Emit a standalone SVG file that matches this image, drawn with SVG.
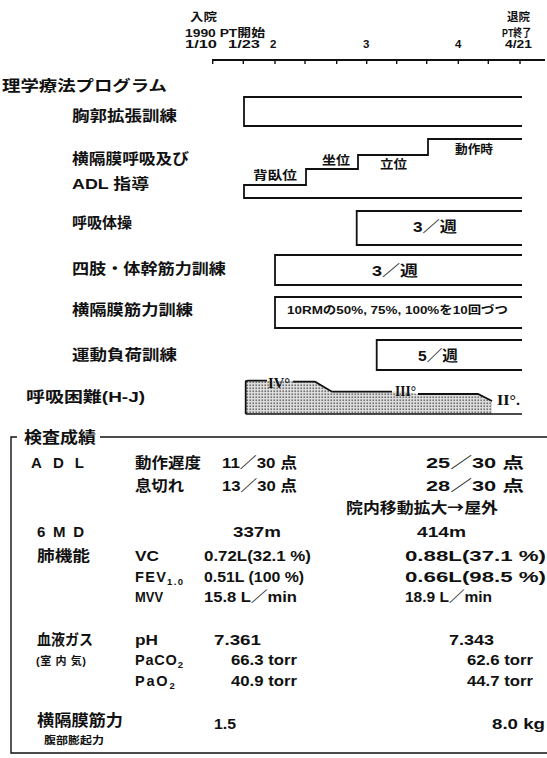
<svg xmlns="http://www.w3.org/2000/svg" width="547" height="758" viewBox="0 0 547 758">
<style>
.t{font-family:"Liberation Sans","Noto Sans CJK JP",sans-serif;font-weight:700;fill:#111}
.r{font-family:"Liberation Serif","Noto Serif CJK JP",serif;font-weight:700;fill:#111}
.ln{stroke:#111;stroke-width:1.8;fill:none}
.th{stroke:#111;stroke-width:1.4;fill:none}
</style>
<defs>
<pattern id="dots" width="3" height="3" patternUnits="userSpaceOnUse">
<rect width="3" height="3" fill="#dcdcdc"/>
<rect x="0.5" y="0.5" width="1.4" height="1.4" fill="#555"/>
</pattern>
</defs>
<rect width="547" height="758" fill="#fff"/>

<g id="timeline">
<line class="ln" x1="212" y1="60" x2="545" y2="60" stroke-width="2.2"/>
<path class="th" d="M212.7,60v4M243.3,60v4M275,60v4M305,60v4M336.7,60v4M366.7,60v4M396.7,60v4M426.7,60v4M458.3,60v4M488.3,60v4M520,60v4"/>
<text class="t" x="190" y="21" font-size="11" textLength="27" lengthAdjust="spacingAndGlyphs">入院</text>
<text class="t" x="185" y="37" font-size="11.5" textLength="80" lengthAdjust="spacingAndGlyphs">1990 PT開始</text>
<text class="t" x="185" y="48" font-size="11.5" textLength="32" lengthAdjust="spacingAndGlyphs">1/10</text>
<text class="t" x="228" y="48" font-size="11.5" textLength="32" lengthAdjust="spacingAndGlyphs">1/23</text>
<text class="t" x="270" y="48" font-size="11.5">2</text>
<text class="t" x="363" y="48" font-size="11.5">3</text>
<text class="t" x="455" y="48" font-size="11.5">4</text>
<text class="t" x="507" y="21" font-size="11" textLength="23" lengthAdjust="spacingAndGlyphs">退院</text>
<text class="t" x="502" y="37" font-size="11" textLength="29" lengthAdjust="spacingAndGlyphs">PT終了</text>
<text class="t" x="505" y="48" font-size="11.5" textLength="27" lengthAdjust="spacingAndGlyphs">4/21</text>
</g>

<g id="program-title">
<text class="t" x="2" y="91" font-size="15" textLength="165" lengthAdjust="spacingAndGlyphs">理学療法プログラム</text>
</g>

<g id="chest">
<text class="t" x="72" y="121" font-size="15" textLength="105" lengthAdjust="spacingAndGlyphs">胸郭拡張訓練</text>
<path class="ln" d="M522,97H244V126H522"/>
</g>

<g id="diaphragm-breathing">
<text class="t" x="72" y="164" font-size="15" textLength="117" lengthAdjust="spacingAndGlyphs">横隔膜呼吸及び</text>
<text class="t" x="72" y="189" font-size="15" textLength="77" lengthAdjust="spacingAndGlyphs">ADL 指導</text>
<path class="ln" d="M522,198H244V185H306V169H358V155H428V139H522"/>
<text class="t" x="253" y="180" font-size="12.5" textLength="44" lengthAdjust="spacingAndGlyphs">背臥位</text>
<text class="t" x="322" y="165" font-size="12.5" textLength="28" lengthAdjust="spacingAndGlyphs">坐位</text>
<text class="t" x="380" y="169" font-size="12.5" textLength="27" lengthAdjust="spacingAndGlyphs">立位</text>
<text class="t" x="455" y="154" font-size="12.5" textLength="38" lengthAdjust="spacingAndGlyphs">動作時</text>
</g>

<g id="breathing-exercise">
<text class="t" x="72" y="228" font-size="15" textLength="60" lengthAdjust="spacingAndGlyphs">呼吸体操</text>
<path class="ln" d="M522,211H356.7V245H522"/>
<text class="t" x="435" y="232" font-size="15" text-anchor="middle" textLength="44" lengthAdjust="spacingAndGlyphs">3／週</text>
</g>

<g id="limb-trunk">
<text class="t" x="72" y="274" font-size="15" textLength="154" lengthAdjust="spacingAndGlyphs">四肢・体幹筋力訓練</text>
<path class="ln" d="M522,255H275V285H522"/>
<text class="t" x="395" y="276" font-size="15" text-anchor="middle" textLength="46" lengthAdjust="spacingAndGlyphs">3／週</text>
</g>

<g id="diaphragm-strength">
<text class="t" x="72" y="315" font-size="15" textLength="121" lengthAdjust="spacingAndGlyphs">横隔膜筋力訓練</text>
<path class="ln" d="M522,297H275V328H522"/>
<text class="t" x="287" y="314" font-size="11.5" textLength="221" lengthAdjust="spacingAndGlyphs">10RMの50%, 75%, 100%を10回づつ</text>
</g>

<g id="exercise-load">
<text class="t" x="72" y="360" font-size="15" textLength="105" lengthAdjust="spacingAndGlyphs">運動負荷訓練</text>
<path class="ln" d="M522,340H376.7V370H522"/>
<text class="t" x="438" y="361" font-size="15" text-anchor="middle" textLength="40" lengthAdjust="spacingAndGlyphs">5／週</text>
</g>

<g id="dyspnea">
<text class="t" x="26" y="402" font-size="15" textLength="119" lengthAdjust="spacingAndGlyphs">呼吸困難(H-J)</text>
<path d="M245.7,414V380.7H293L315,381.7L332,391.7H405L418,394H478L492,401V414Z" fill="url(#dots)"/>
<path class="ln" d="M245.7,414V382Q245.7,380.7 248,380.7H267M293,381.7H315L332,391.7H392M418,394H478L492,401"/>
<line class="th" x1="245.7" y1="414" x2="522" y2="414"/>
<text class="r" x="268" y="388" font-size="15" textLength="22" lengthAdjust="spacingAndGlyphs">IV°</text>
<text class="r" x="395" y="396" font-size="15" textLength="21" lengthAdjust="spacingAndGlyphs">III°</text>
<text class="r" x="497" y="405" font-size="15" textLength="23" lengthAdjust="spacingAndGlyphs">II°.</text>
</g>

<g id="results-frame">
<path class="th" d="M17,437H11V753H547M100,437H547"/>
<text class="t" x="24" y="443" font-size="15.5" textLength="72" lengthAdjust="spacingAndGlyphs">検査成績</text>
</g>

<g id="adl">
<text class="t" x="31" y="468" font-size="15" textLength="53">ADL</text>
<text class="t" x="135" y="468" font-size="15" textLength="66" lengthAdjust="spacingAndGlyphs">動作遅度</text>
<text class="t" x="222" y="468" font-size="15" textLength="75" lengthAdjust="spacingAndGlyphs">11／30 点</text>
<text class="t" x="426" y="468" font-size="15" textLength="98" lengthAdjust="spacingAndGlyphs">25／30 点</text>
<text class="t" x="135" y="491" font-size="15" textLength="49" lengthAdjust="spacingAndGlyphs">息切れ</text>
<text class="t" x="222" y="491" font-size="15" textLength="75" lengthAdjust="spacingAndGlyphs">13／30 点</text>
<text class="t" x="426" y="491" font-size="15" textLength="98" lengthAdjust="spacingAndGlyphs">28／30 点</text>
<text class="t" x="346" y="513" font-size="14.5" textLength="152" lengthAdjust="spacingAndGlyphs">院内移動拡大<tspan font-family="Noto Sans CJK JP">→</tspan>屋外</text>
</g>

<g id="6md">
<text class="t" x="37" y="537" font-size="15" textLength="47">6MD</text>
<text class="t" x="233" y="537" font-size="14.5" textLength="48" lengthAdjust="spacingAndGlyphs">337m</text>
<text class="t" x="417" y="537" font-size="14.5" textLength="49" lengthAdjust="spacingAndGlyphs">414m</text>
</g>

<g id="lung">
<text class="t" x="37" y="561" font-size="15" textLength="53" lengthAdjust="spacingAndGlyphs">肺機能</text>
<text class="t" x="135" y="561" font-size="14.5" textLength="24" lengthAdjust="spacingAndGlyphs">VC</text>
<text class="t" x="204" y="561" font-size="14.5" textLength="107" lengthAdjust="spacingAndGlyphs">0.72L(32.1 %)</text>
<text class="t" x="405" y="561" font-size="14.5" textLength="141" lengthAdjust="spacingAndGlyphs">0.88L(37.1 %)</text>
<text class="t" x="135" y="582" font-size="14.5" letter-spacing="1.3">FEV<tspan font-size="9.5" dy="3">1.0</tspan></text>
<text class="t" x="204" y="582" font-size="14.5" textLength="100" lengthAdjust="spacingAndGlyphs">0.51L (100 %)</text>
<text class="t" x="405" y="582" font-size="14.5" textLength="141" lengthAdjust="spacingAndGlyphs">0.66L(98.5 %)</text>
<text class="t" x="135" y="602" font-size="14.5" textLength="28" lengthAdjust="spacingAndGlyphs">MVV</text>
<text class="t" x="204" y="602" font-size="14.5" textLength="93" lengthAdjust="spacingAndGlyphs">15.8 L／min</text>
<text class="t" x="405" y="602" font-size="14.5" textLength="87" lengthAdjust="spacingAndGlyphs">18.9 L／min</text>
</g>

<g id="blood-gas">
<text class="t" x="37" y="645" font-size="15" textLength="56" lengthAdjust="spacingAndGlyphs">血液ガス</text>
<text class="t" x="36" y="665" font-size="11" textLength="50">(室 内 気)</text>
<text class="t" x="135" y="645" font-size="14.5" textLength="23" lengthAdjust="spacingAndGlyphs">pH</text>
<text class="t" x="214" y="645" font-size="14.5" textLength="47" lengthAdjust="spacingAndGlyphs">7.361</text>
<text class="t" x="449" y="645" font-size="14.5" textLength="45" lengthAdjust="spacingAndGlyphs">7.343</text>
<text class="t" x="135" y="665" font-size="14.5" letter-spacing="0.8">PaCO<tspan font-size="9.5" dy="3">2</tspan></text>
<text class="t" x="231" y="665" font-size="14.5" textLength="66" lengthAdjust="spacingAndGlyphs">66.3 torr</text>
<text class="t" x="467" y="665" font-size="14.5" textLength="66" lengthAdjust="spacingAndGlyphs">62.6 torr</text>
<text class="t" x="135" y="686" font-size="14.5" letter-spacing="1.8">PaO<tspan font-size="9.5" dy="3">2</tspan></text>
<text class="t" x="231" y="686" font-size="14.5" textLength="66" lengthAdjust="spacingAndGlyphs">40.9 torr</text>
<text class="t" x="467" y="686" font-size="14.5" textLength="66" lengthAdjust="spacingAndGlyphs">44.7 torr</text>
</g>

<g id="diaphragm-force">
<text class="t" x="37" y="726" font-size="15.5" textLength="86" lengthAdjust="spacingAndGlyphs">横隔膜筋力</text>
<text class="t" x="44" y="744" font-size="10.5" textLength="60" lengthAdjust="spacingAndGlyphs">腹部膨起力</text>
<text class="t" x="214" y="729" font-size="14.5" textLength="22" lengthAdjust="spacingAndGlyphs">1.5</text>
<text class="t" x="492" y="729" font-size="14.5" textLength="53" lengthAdjust="spacingAndGlyphs">8.0   kg</text>
</g>
</svg>
